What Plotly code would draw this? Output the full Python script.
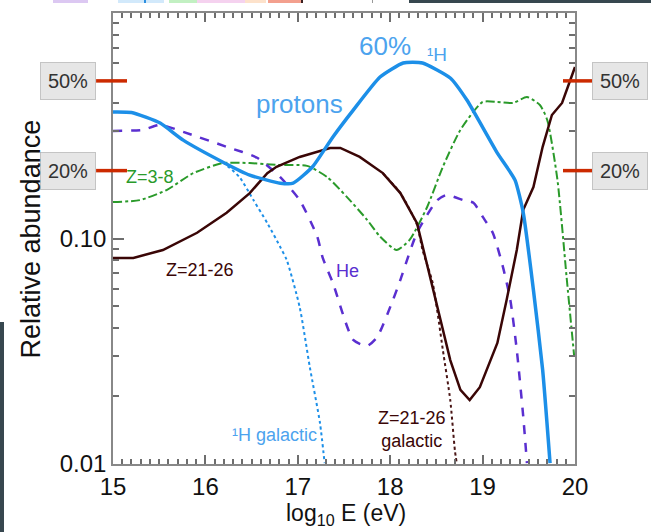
import numpy as np
import plotly.graph_objects as go

# ---------------- data ----------------
p_x = [15.00, 15.20, 15.51, 15.76, 16.19, 16.48, 16.81, 16.95, 17.16, 17.38, 17.60, 17.89,
       18.14, 18.35, 18.65, 18.83, 19.16, 19.35, 19.44, 19.55, 19.65, 19.73]
p_y = [0.364, 0.362, 0.325, 0.273, 0.218, 0.191, 0.176, 0.176, 0.208, 0.282, 0.371, 0.520,
       0.600, 0.600, 0.515, 0.411, 0.239, 0.182, 0.130, 0.0591, 0.0261, 0.0101]

he_x = [15.00, 15.32, 15.51, 15.76, 16.23, 16.56, 16.81, 17.02, 17.21, 17.27, 17.38, 17.60,
        17.75, 17.86, 18.03, 18.11, 18.29, 18.51, 18.61, 18.79, 18.90, 19.00, 19.11, 19.22,
        19.30, 19.37, 19.44, 19.48]
he_y = [0.300, 0.303, 0.319, 0.297, 0.255, 0.228, 0.187, 0.148, 0.102, 0.0820, 0.0635, 0.0355,
        0.0334, 0.0366, 0.0534, 0.0655, 0.106, 0.148, 0.156, 0.148, 0.144, 0.125, 0.106, 0.0748,
        0.0534, 0.0320, 0.0162, 0.0101]

z38_x = [15.00, 15.29, 15.58, 15.87, 16.19, 16.48, 16.77, 17.10, 17.32, 17.53, 17.75, 17.89,
         18.07, 18.21, 18.40, 18.57, 18.76, 19.00, 19.16, 19.33, 19.48, 19.62, 19.70, 19.81,
         19.91, 19.99]
z38_y = [0.145, 0.148, 0.164, 0.195, 0.216, 0.216, 0.212, 0.210, 0.187, 0.153, 0.121, 0.102,
         0.0889, 0.0985, 0.138, 0.208, 0.303, 0.403, 0.403, 0.399, 0.424, 0.391, 0.335, 0.182,
         0.0668, 0.0304]

fe_x = [15.00, 15.22, 15.54, 15.91, 16.23, 16.48, 16.67, 16.77, 17.02, 17.35, 17.46, 17.67,
        17.92, 18.11, 18.29, 18.46, 18.65, 18.76, 18.86, 18.97, 19.16, 19.26, 19.37, 19.44,
        19.55, 19.65, 19.75, 19.86, 20.00]
fe_y = [0.0820, 0.0820, 0.0889, 0.106, 0.130, 0.159, 0.195, 0.208, 0.230, 0.252, 0.252, 0.230,
        0.195, 0.159, 0.117, 0.0610, 0.0289, 0.0213, 0.0192, 0.0219, 0.0344, 0.0534, 0.0889, 0.134,
        0.169, 0.255, 0.353, 0.399, 0.576]

hgal_x = [16.19, 16.37, 16.52, 16.67, 16.81, 16.88, 17.02, 17.13, 17.24, 17.29]
hgal_y = [0.218, 0.187, 0.148, 0.117, 0.0917, 0.0803, 0.0497, 0.0269, 0.0152, 0.0101]

fegal_x = [17.92, 18.11, 18.29, 18.35, 18.46, 18.57, 18.65, 18.70, 18.72]
fegal_y = [0.195, 0.159, 0.115, 0.0889, 0.0635, 0.0320, 0.0192, 0.0115, 0.0101]

levels = [0.5, 0.2]
level_labels = ["50%", "20%"]

x_range = [15, 20]
y_range_log = [-2, 0]

# ---------------- styles ----------------
BLUE = "#1c8fe8"
BLUE_TXT = "#4ca3ee"
PURPLE = "#5a2fd0"
GREEN = "#2a9a2a"
BROWN = "#3a0606"
RED = "#cc2a00"
AXC = "#888888"
TICKC = "#6e6e6e"
FONT = "Liberation Sans, Arial, Helvetica, sans-serif"

fig = go.Figure()
fig.add_trace(go.Scatter(x=hgal_x, y=hgal_y, mode="lines", line_shape="spline",
                         line=dict(color=BLUE, width=2, dash="dot", smoothing=0.6),
                         name="1H galactic"))
fig.add_trace(go.Scatter(x=fegal_x, y=fegal_y, mode="lines", line_shape="spline",
                         line=dict(color="#4a1616", width=2, dash="dot", smoothing=0.6),
                         name="Z=21-26 galactic"))
fig.add_trace(go.Scatter(x=z38_x, y=z38_y, mode="lines", line_shape="spline",
                         line=dict(color=GREEN, width=2, dash="dashdot", smoothing=0.6),
                         name="Z=3-8"))
fig.add_trace(go.Scatter(x=he_x, y=he_y, mode="lines", line_shape="spline",
                         line=dict(color=PURPLE, width=2.5, dash="dash", smoothing=0.6),
                         name="He"))
fig.add_trace(go.Scatter(x=fe_x, y=fe_y, mode="lines",
                         line=dict(color=BROWN, width=2.5), name="Z=21-26"))
fig.add_trace(go.Scatter(x=p_x, y=p_y, mode="lines", line_shape="spline",
                         line=dict(color=BLUE, width=3.5, smoothing=0.5), name="protons"))

shapes = []
annotations = []
# percentage markers on both sides
for lv, lab in zip(levels, level_labels):
    for (x0, x1, xb) in [(-0.0366, 0.0303, -0.097), (0.974, 1.039, 1.097)]:
        shapes.append(dict(type="line", xref="paper", yref="y", x0=x0, x1=x1, y0=lv, y1=lv,
                           line=dict(color=RED, width=3.5), layer="above"))
        annotations.append(dict(xref="paper", yref="y", x=xb, y=np.log10(lv), text=lab,
                                showarrow=False, font=dict(family=FONT, size=20, color="#333333"),
                                bgcolor="#e6e6e6", bordercolor="#c4c4c4", borderwidth=1,
                                borderpad=5, width=44, height=26, xanchor="center", yanchor="middle"))

# in-plot labels
labels = [
    ("60%", 17.94, 0.714, BLUE_TXT, 26, "center"),
    ("¹H", 18.51, 0.652, BLUE_TXT, 19, "center"),
    ("protons", 17.02, 0.395, BLUE_TXT, 26, "center"),
    ("Z=3-8", 15.40, 0.188, GREEN, 18, "center"),
    ("Z=21-26", 15.94, 0.0725, BROWN, 18, "center"),
    ("He", 17.54, 0.0718, PURPLE, 18, "center"),
    ("¹H galactic", 17.23, 0.0135, BLUE_TXT, 18, "right"),
    ("Z=21-26<br>galactic", 18.24, 0.0142, BROWN, 18, "center"),
]
for t, x, y, c, s, xa in labels:
    annotations.append(dict(x=x, y=np.log10(y), text=t, showarrow=False, xanchor=xa,
                            yanchor="middle", font=dict(family=FONT, size=s, color=c)))

# axis titles
annotations.append(dict(xref="paper", yref="paper", x=-0.1775, y=0.5, text="Relative abundance",
                        textangle=-90, showarrow=False, xanchor="center", yanchor="middle",
                        font=dict(family=FONT, size=27, color="#111111")))
annotations.append(dict(xref="paper", yref="paper", x=0.504, y=-0.113,
                        text="log<sub>10</sub> E (eV)", showarrow=False,
                        xanchor="center", yanchor="middle",
                        font=dict(family=FONT, size=23, color="#111111")))

# slide remnants around the picture
def px_paper(px, py):
    return ((px - 113) / 462.0, (464 - py) / 451.0)

strips = [(53, 88, "#dcc8f2"), (118, 164, "#d2e9fb"), (144, 146, "#2d8fe0"), (169, 197, "#c2f0c2"),
          (197, 245, "#f5d2ef"), (245, 266, "#fde2cb"), (268, 301, "#f3a08e"), (301, 303, "#3a2020"),
          (372, 373, "#999999"), (409, 651, "#37474f")]
for a, b, col in strips:
    x0, y0 = px_paper(a, 3)
    x1, y1 = px_paper(b, 0)
    shapes.append(dict(type="rect", xref="paper", yref="paper", x0=x0, x1=x1, y0=y0, y1=y1,
                       fillcolor=col, line=dict(width=0), layer="above"))
x0, y0 = px_paper(0, 532)
x1, y1 = px_paper(4, 322)
shapes.append(dict(type="rect", xref="paper", yref="paper", x0=x0, x1=x1, y0=y0, y1=y1,
                   fillcolor="#37474f", line=dict(width=0), layer="above"))

fig.update_layout(
    width=651, height=532,
    margin=dict(l=113, r=76, t=13, b=68),
    paper_bgcolor="white", plot_bgcolor="white",
    showlegend=False,
    shapes=shapes, annotations=annotations,
    xaxis=dict(range=x_range, dtick=1, ticks="inside", ticklen=9, tickcolor=TICKC, tickwidth=2,
               showline=True, linecolor=AXC, linewidth=1.5, mirror="allticks",
               showgrid=False, zeroline=False,
               tickfont=dict(family=FONT, size=24, color="#111111"),
               minor=dict(dtick=0.1, ticks="inside", ticklen=5, tickcolor=TICKC, tickwidth=1.5)),
    yaxis=dict(type="log", range=y_range_log, dtick=1, tickformat=".2f",
               ticks="inside", ticklen=11, tickcolor=TICKC, tickwidth=2,
               showline=True, linecolor=AXC, linewidth=1.5, mirror="allticks",
               showgrid=False, zeroline=False,
               tickfont=dict(family=FONT, size=24, color="#111111"),
               minor=dict(ticks="inside", ticklen=6, tickcolor=TICKC, tickwidth=1.5, dtick="D1")),
)

fig.write_html("out.html")
